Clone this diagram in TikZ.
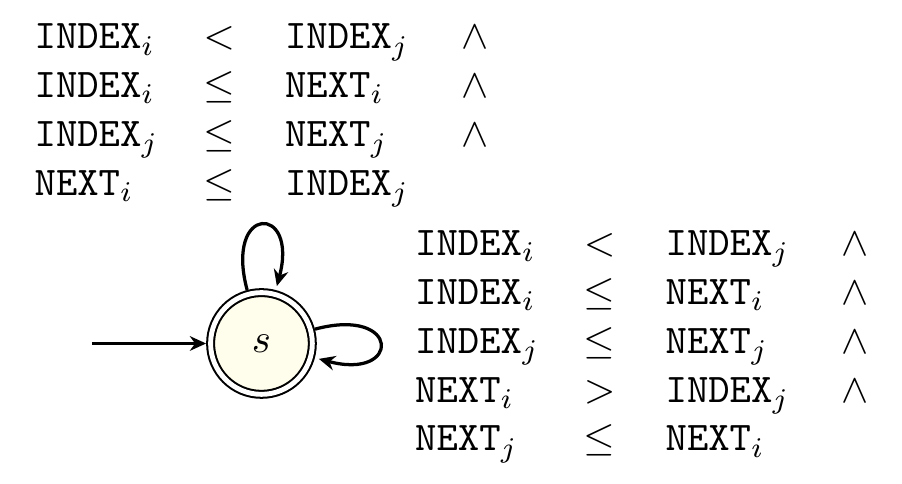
\documentclass[tikz,border=0pt]{standalone}
\usepackage{amsmath}
\usepackage{tikz}
\usetikzlibrary{arrows.meta, automata, positioning}
\definecolor{statefill}{RGB}{255,253,236}

\begin{document}
\begin{tikzpicture}[
  node distance=28pt,
  >={Stealth[length=4pt, width=3.6pt]},
  every state/.style={
    draw, fill=statefill,
    line width=0.5pt,
    minimum size=25pt,
    inner sep=0pt
  },
  accepting/.style={double, double distance=1.2pt, outer sep=1.1pt},
  trans/.style={->, thick},
]
\useasboundingbox (-64.25pt,-34.3pt) rectangle (157.4pt,84.4pt);

% --- The single state ---
\node[state, accepting] (S) at (0,0) {$s$};
\coordinate[left=of S] (START);

% --- Arrows ---
\draw[trans] (START) -- (S);

\path[trans] (S) edge[loop above] node[above] {$\begin{array}{l@{\hspace{11pt}}c@{\hspace{12.3pt}}l@{\hspace{12.8pt}}c}
    \mathtt{INDEX}_i & <    & \mathtt{INDEX}_j & \wedge\\
    \mathtt{INDEX}_i & \leq & \mathtt{NEXT}_i  & \wedge\\
    \mathtt{INDEX}_j & \leq & \mathtt{NEXT}_j  & \wedge\\
    \mathtt{NEXT}_i  & \leq & \mathtt{INDEX}_j &
  \end{array}$} ()
  edge[loop right] node[right] {$\begin{array}{l@{\hspace{11pt}}c@{\hspace{12.3pt}}l@{\hspace{12.8pt}}c}
    \mathtt{INDEX}_i & <    & \mathtt{INDEX}_j & \wedge\\
    \mathtt{INDEX}_i & \leq & \mathtt{NEXT}_i  & \wedge\\
    \mathtt{INDEX}_j & \leq & \mathtt{NEXT}_j  & \wedge\\
    \mathtt{NEXT}_i  & >    & \mathtt{INDEX}_j & \wedge\\
    \mathtt{NEXT}_j  & \leq & \mathtt{NEXT}_i  &
  \end{array}$} ();

\end{tikzpicture}
\end{document}
